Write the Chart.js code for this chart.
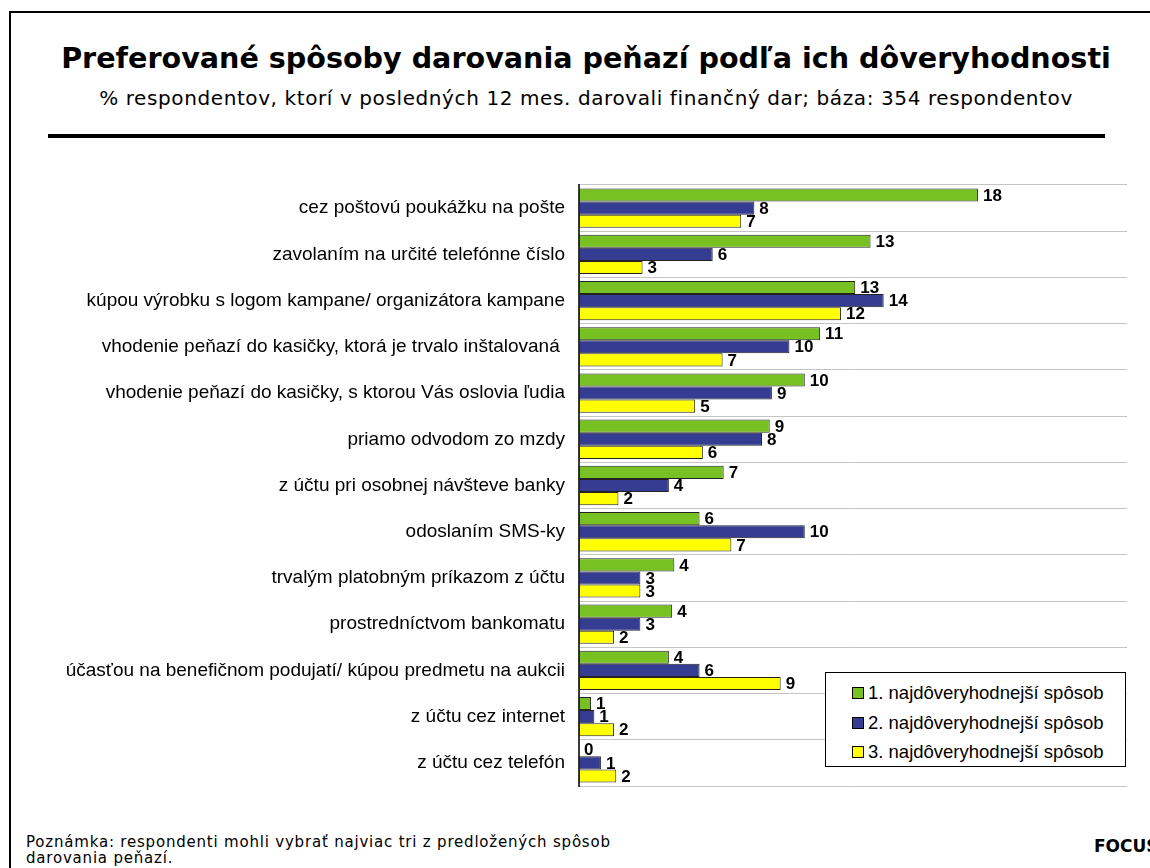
<!DOCTYPE html>
<html>
<head>
<meta charset="utf-8">
<script src="https://cdn.jsdelivr.net/npm/chart.js@4.4.0/dist/chart.umd.min.js"></script>
<style>
    html, body { margin: 0; padding: 0; background: #fff; }
    body { width: 1150px; height: 868px; position: relative; overflow: hidden; font-family: "DejaVu Sans", Verdana, sans-serif; }
    .frame { position: absolute; left: 9px; top: 11px; width: 1200px; height: 900px; border: 2px solid #000; box-sizing: border-box; }
    .title { position: absolute; left: 0; width: 1172px; top: 41px; text-align: center; font-weight: bold; font-size: 28.6px; color: #000; white-space: nowrap; }
    .subtitle { position: absolute; left: 0; width: 1172px; top: 86px; text-align: center; font-size: 20px; letter-spacing: 0.6px; color: #000; white-space: nowrap; }
    .rule { position: absolute; left: 48px; width: 1057px; top: 134px; height: 4px; background: #000; }
    .chart-box { position: absolute; left: 0; top: 170px; width: 1150px; height: 630px; }
    .legend { position: absolute; left: 825px; top: 672px; width: 301px; height: 95px; border: 1px solid #000; background: #fff; box-sizing: border-box; font-family: "Liberation Sans", Arial, sans-serif; font-size: 18.5px; }
    .legend div { position: absolute; left: 26px; height: 20px; line-height: 20px; white-space: nowrap; }
    .legend span { display: inline-block; width: 10px; height: 10px; border: 1px solid #000; margin-right: 4px; vertical-align: 0px; }
    .note { position: absolute; left: 26px; top: 834px; font-size: 15px; letter-spacing: 0.8px; line-height: 16px; color: #000; white-space: nowrap; }
    .focus { position: absolute; left: 1094px; top: 836px; font-size: 17px; font-weight: bold; color: #000; }
</style>
</head>
<body>
<div class="frame"></div>
<div class="title">Preferované spôsoby darovania peňazí podľa ich dôveryhodnosti</div>
<div class="subtitle">% respondentov, ktorí v posledných 12 mes. darovali finančný dar; báza: 354 respondentov</div>
<div class="rule"></div>
<div class="chart-box"><canvas id="chart"></canvas></div>
<div class="legend" id="legend"></div>
<div class="note">Poznámka: respondenti mohli vybrať najviac tri z predložených spôsob<br>darovania peňazí.</div>
<div class="focus">FOCUS</div>

<script>
const categories = [
    'cez poštovú poukážku na pošte',
    'zavolaním na určité telefónne číslo',
    'kúpou výrobku s logom kampane/ organizátora kampane',
    'vhodenie peňazí do kasičky, ktorá je trvalo inštalovaná ',
    'vhodenie peňazí do kasičky, s ktorou Vás oslovia ľudia',
    'priamo odvodom zo mzdy',
    'z účtu pri osobnej návšteve banky',
    'odoslaním SMS-ky',
    'trvalým platobným príkazom z účtu',
    'prostredníctvom bankomatu',
    'účasťou na benefičnom podujatí/ kúpou predmetu na aukcii',
    'z účtu cez internet',
    'z účtu cez telefón'
];

const seriesNames = [
    '1. najdôveryhodnejší spôsob',
    '2. najdôveryhodnejší spôsob',
    '3. najdôveryhodnejší spôsob'
];

const first  = [18.2, 13.3, 12.6, 11.0, 10.3, 8.7, 6.6, 5.5, 4.35, 4.25, 4.1, 0.55, 0.0];
const second = [8.0, 6.1, 13.9, 9.6, 8.8, 8.35, 4.1, 10.3, 2.8, 2.8, 5.5, 0.7, 1.0];
const third  = [7.4, 2.9, 11.95, 6.55, 5.3, 5.65, 1.8, 6.95, 2.8, 1.6, 9.2, 1.6, 1.7];

const xMax = 25;

const colors = ['#78c122', '#343d91', '#ffff00'];

// value labels at the end of each bar
const barLabels = {
    id: 'barLabels',
    afterDatasetsDraw(chart) {
        const ctx = chart.ctx;
        ctx.save();
        ctx.font = 'bold 17px "Liberation Sans", Arial, sans-serif';
        ctx.fillStyle = '#000';
        ctx.textAlign = 'left';
        ctx.textBaseline = 'middle';
        chart.data.datasets.forEach(function (ds, i) {
            const meta = chart.getDatasetMeta(i);
            meta.data.forEach(function (bar, j) {
                ctx.fillText(String(Math.round(ds.data[j])), bar.x + 5, bar.y + 1);
            });
        });
        ctx.restore();
    }
};

const chart = new Chart(document.getElementById('chart'), {
    type: 'bar',
    data: {
        labels: categories,
        datasets: [first, second, third].map(function (d, i) {
            return {
                label: seriesNames[i],
                data: d,
                backgroundColor: colors[i],
                borderColor: '#222',
                borderWidth: 1,
                borderSkipped: false,
                categoryPercentage: 0.85,
                barPercentage: 1.0
            };
        })
    },
    options: {
        indexAxis: 'y',
        responsive: true,
        maintainAspectRatio: false,
        animation: false,
        layout: { padding: { top: 15, bottom: 14, right: 23, left: 0 } },
        plugins: {
            legend: { display: false },
            tooltip: { enabled: false }
        },
        scales: {
            x: {
                display: false,
                min: 0,
                max: xMax
            },
            y: {
                afterFit: function (scale) {
                    scale.width = 579;
                    scale.paddingTop = 0;
                    scale.paddingBottom = 0;
                },
                grid: {
                    color: '#c4c4c4',
                    lineWidth: 1,
                    drawTicks: false,
                    offset: true
                },
                border: { color: '#3a3a3a', width: 2 },
                ticks: {
                    padding: 14,
                    color: '#000',
                    font: { family: '"Liberation Sans", Arial, sans-serif', size: 19 }
                }
            }
        }
    },
    plugins: [barLabels]
});

// legend
const legend = document.getElementById('legend');
seriesNames.forEach(function (name, i) {
    const item = document.createElement('div');
    item.style.top = (10 + i * 29.5) + 'px';
    item.innerHTML = '<span style="background:' + colors[i] + '"></span>' + name;
    legend.appendChild(item);
});
</script>
</body>
</html>
